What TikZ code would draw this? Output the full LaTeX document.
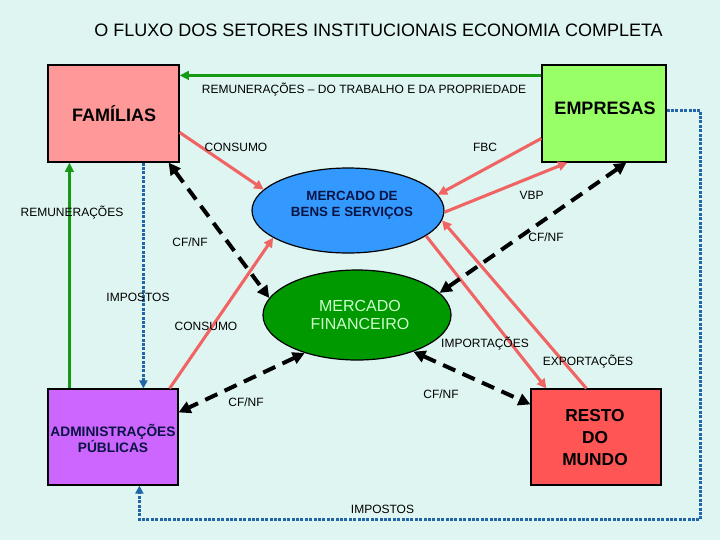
\documentclass[tikz,border=0pt]{standalone}
\usepackage{fontspec}
\setmainfont{Liberation Sans}
\usetikzlibrary{arrows.meta,calc,shapes.geometric}
\definecolor{bgc}{HTML}{DEF5F1}
\definecolor{famc}{HTML}{FF9999}
\definecolor{empc}{HTML}{99FF66}
\definecolor{admc}{HTML}{CC66FF}
\definecolor{rdmc}{HTML}{FF5555}
\definecolor{mbsc}{HTML}{3399FF}
\definecolor{mfc}{HTML}{009900}
\definecolor{mftxt}{HTML}{CCFFCC}
\definecolor{navy}{HTML}{0A1445}
\definecolor{redl}{HTML}{F06464}
\definecolor{grnl}{HTML}{169A16}
\definecolor{blul}{HTML}{2266AA}
\begin{document}
\begin{tikzpicture}[x=0.75pt,y=-0.75pt,
  box/.style={draw=black,line width=0.9pt,inner sep=0pt},
  ell/.style={draw=black,line width=0.9pt,inner sep=0pt,ellipse},
  lbl/.style={font=\fontsize{9}{11}\selectfont,inner sep=0pt,text height=6.45pt,text depth=0pt},
  redarr/.style={draw=redl,line width=2.3pt,-{Triangle[length=7pt,width=7pt]}},
  grnarr/.style={draw=grnl,line width=2.3pt,-{Triangle[length=7pt,width=6.5pt]}},
  bluarr/.style={draw=blul,line width=2.3pt,dash pattern=on 2.2pt off 1.1pt,-{Triangle[length=6pt,width=6pt]}},
  blkarr/.style={draw=black,line width=3pt,dash pattern=on 10pt off 6pt,{Triangle[length=9pt,width=9pt]}-{Triangle[length=9pt,width=9pt]}},
]
\fill[bgc] (0,0) rectangle (720,540);
\useasboundingbox (0,0) rectangle (720,540);

\node[font=\fontsize{13.5}{16}\selectfont,inner sep=0pt,text height=9.67pt,text depth=0pt] (title) at (378.5,30) {O FLUXO DOS SETORES INSTITUCIONAIS ECONOMIA COMPLETA};

% boxes
\node[box,fill=famc,minimum width={131*0.75pt},minimum height={97*0.75pt}] (fam) at (113.5,113.5) {};
\node[box,fill=empc,minimum width={124*0.75pt},minimum height={97*0.75pt}] (emp) at (604,113.5) {};
\node[box,fill=admc,minimum width={130*0.75pt},minimum height={96*0.75pt}] (adm) at (113,437) {};
\node[box,fill=rdmc,minimum width={130*0.75pt},minimum height={96*0.75pt}] (rdm) at (596,437) {};
\node[ell,fill=mbsc,minimum width={192*0.75pt},minimum height={85*0.75pt}] (mbs) at (348,210.5) {};
\node[ell,fill=mfc,minimum width={188*0.75pt},minimum height={90*0.75pt}] (mf) at (357,315) {};

% box texts
\node[inner sep=0pt,font=\fontsize{13.5}{16}\bfseries,text height=9.7pt,text depth=0pt] (famt) at (114,115) {FAMÍLIAS};
\node[inner sep=0pt,font=\fontsize{13.5}{16}\bfseries,text height=9.7pt,text depth=0pt] (empt) at (605,108) {EMPRESAS};
\node[inner sep=0pt,font=\fontsize{10.3}{12}\bfseries,text=navy,align=center] (admt) at (113,438) {ADMINISTRAÇÕES\\PÚBLICAS};
\node[inner sep=0pt,font=\fontsize{13}{16.2}\bfseries,align=center] (rdmt) at (595,437.5) {RESTO\\DO\\MUNDO};
\node[inner sep=0pt,font=\fontsize{10}{12}\bfseries,text=navy,align=center] (mbst) at (352,205) {MERCADO DE\\BENS E SERVIÇOS};
\node[inner sep=0pt,font=\fontsize{12}{13.5}\selectfont,text=mftxt,align=center] (mft) at (360,315) {MERCADO\\FINANCEIRO};

% green
\draw[grnarr] ($(emp.north west)+(0,11)$) -- ($(fam.north east)+(0,11)$);
\draw[grnarr] ($(adm.north west)+(22,0)$) -- ($(fam.south west)+(22,0)$);
% blue dotted
\draw[bluarr] ($(fam.south west)+(96,0)$) -- ($(adm.north west)+(96,0)$);
\draw[bluarr] ($(emp.north east)+(0,46)$) -- ++(34,0) |- ($(adm.south west)+(92,34)$) -- ($(adm.south west)+(92,0)$);

% red
\draw[redarr] ($(fam.north east)+(0,68)$) -- (mbs.166);
\draw[redarr] ($(emp.north west)+(0,74)$) -- (mbs.10);
\draw[redarr] (mbs.-1) -- ($(emp.south west)+(26,0)$);
\draw[redarr] ($(adm.north east)+(-9,0)$) -- (mbs.200);
\draw[redarr] (mbs.-18) -- ($(rdm.north west)+(16,0)$);
\draw[redarr] ($(rdm.north west)+(56,0)$) -- (mbs.-6);

% black dashed
\draw[blkarr] ($(fam.south east)+(-11,0)$) -- (mf.169);
\draw[blkarr] ($(emp.south west)+(85,0)$) -- (mf.15);
\draw[blkarr] (mf.216) -- ($(adm.north east)+(0,24)$);
\draw[blkarr] (mf.-33) -- ($(rdm.north west)+(0,16)$);

% labels
\node[lbl] (l1) at (364,89) {REMUNERAÇÕES – DO TRABALHO E DA PROPRIEDADE};
\node[lbl] (l2) at (236,147) {CONSUMO};
\node[lbl] (l3) at (485,147) {FBC};
\node[lbl] (l4) at (531.5,195) {VBP};
\node[lbl] (l5) at (72,212) {REMUNERAÇÕES};
\node[lbl] (l6) at (190,242) {CF/NF};
\node[lbl] (l7) at (546,237) {CF/NF};
\node[lbl] (l8) at (138,297) {IMPOSTOS};
\node[lbl] (l9) at (206,326) {CONSUMO};
\node[lbl] (l10) at (485,343) {IMPORTAÇÕES};
\node[lbl] (l11) at (588,361) {EXPORTAÇÕES};
\node[lbl] (l12) at (246,402) {CF/NF};
\node[lbl] (l13) at (441,394) {CF/NF};
\node[lbl] (l14) at (382.5,509) {IMPOSTOS};
\end{tikzpicture}
\end{document}
